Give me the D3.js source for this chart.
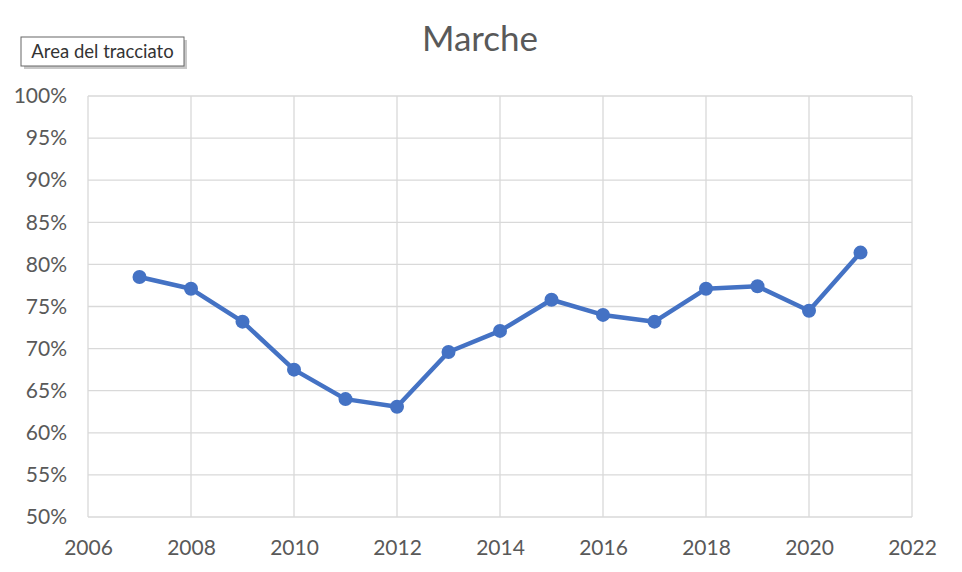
<!DOCTYPE html>
<html><head><meta charset="utf-8">
<script src="https://cdn.jsdelivr.net/npm/d3@7"></script>
<style>body{margin:0;background:#fff;} svg{display:block;}</style>
</head><body>
<script>
const years = [2007,2008,2009,2010,2011,2012,2013,2014,2015,2016,2017,2018,2019,2020,2021];
const values = [78.5,77.1,73.2,67.5,64.0,63.1,69.6,72.1,75.8,74.0,73.2,77.1,77.4,74.5,81.4];
const xTicks = [2006,2008,2010,2012,2014,2016,2018,2020,2022];
const yTicks = [50,55,60,65,70,75,80,85,90,95,100];
const title = "Marche";
const tooltipLabel = "Area del tracciato";

const W = 962, H = 572;
const m = {left:88, right:W-912, top:96, bottom:H-517};
const svg = d3.select("body").append("svg").attr("width",W).attr("height",H);
const font = "Lato, 'Open Sans', sans-serif";
const x = d3.scaleLinear().domain([2006,2022]).range([m.left, W-m.right]);
const y = d3.scaleLinear().domain([50,100]).range([H-m.bottom, m.top]);

// gridlines
svg.append("g").selectAll("line.h").data(yTicks).join("line")
  .attr("x1",x(2006)).attr("x2",x(2022)).attr("y1",d=>y(d)).attr("y2",d=>y(d))
  .attr("stroke","#d9d9d9").attr("stroke-width",1.3);
svg.append("g").selectAll("line.v").data(xTicks).join("line")
  .attr("y1",y(50)).attr("y2",y(100)).attr("x1",d=>x(d)).attr("x2",d=>x(d))
  .attr("stroke","#d9d9d9").attr("stroke-width",1.3);

// axes
const xAxis = svg.append("g").attr("transform",`translate(0,${y(50)})`)
  .call(d3.axisBottom(x).tickValues(xTicks).tickFormat(d3.format("d")).tickSize(0).tickPadding(23));
const yAxis = svg.append("g").attr("transform",`translate(${x(2006)},0)`)
  .call(d3.axisLeft(y).tickValues(yTicks).tickFormat(d=>d+"%").tickSize(0).tickPadding(21));
[xAxis,yAxis].forEach(a=>{
  a.select(".domain").remove();
  a.selectAll("text").attr("font-family",font).attr("font-size",21).attr("fill","#595959");
});
xAxis.selectAll("text").attr("dy","0.71em");

// line
const pts = years.map((yr,i)=>[yr,values[i]]);
svg.append("path").datum(pts)
  .attr("d", d3.line().x(d=>x(d[0])).y(d=>y(d[1])))
  .attr("fill","none").attr("stroke","#4472C4").attr("stroke-width",4.5).attr("stroke-linejoin","round");
svg.append("g").selectAll("circle").data(pts).join("circle")
  .attr("cx",d=>x(d[0])).attr("cy",d=>y(d[1])).attr("r",7).attr("fill","#4472C4");

// title
svg.append("text").attr("x",480).attr("y",51).attr("text-anchor","middle")
  .attr("font-family",font).attr("font-size",35).attr("fill","#595959").text(title);

// tooltip box
const tb = svg.append("g");
tb.append("rect").attr("x",24).attr("y",40).attr("width",163).attr("height",29).attr("fill","#c8c8c8");
tb.append("rect").attr("x",21).attr("y",37).attr("width",163).attr("height",29).attr("fill","#fff").attr("stroke","#666").attr("stroke-width",1);
tb.append("text").attr("x",102.5).attr("y",58).attr("text-anchor","middle")
  .attr("font-family",font).attr("font-size",18.5).attr("fill","#333").text(tooltipLabel);
</script>
</body></html>
